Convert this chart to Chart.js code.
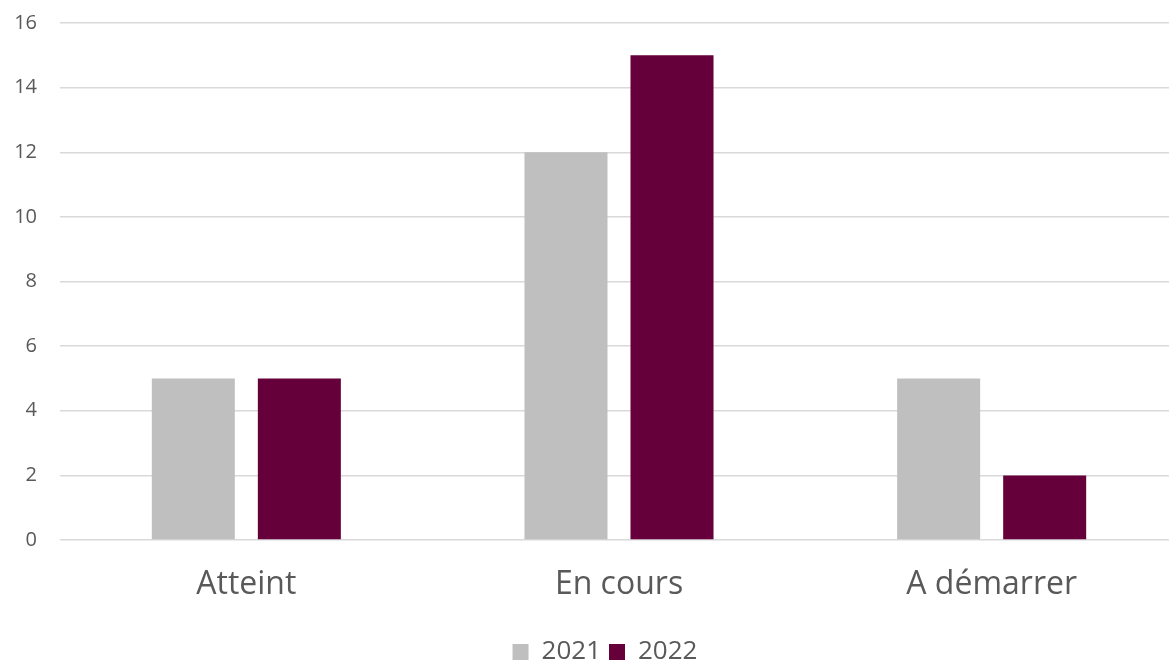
<!DOCTYPE html>
<html>
<head>
<meta charset="utf-8">
<script src="https://cdn.jsdelivr.net/npm/chart.js@4/dist/chart.umd.min.js"></script>
<style>
  html, body { margin: 0; padding: 0; background: #fff; overflow: hidden; }
  #wrap { width: 1178px; height: 676px; position: relative; top: -12px; }
</style>
</head>
<body>
<div id="wrap"><canvas id="graphique"></canvas></div>
<script>
// categories et valeurs
const categories = ['Atteint', 'En cours', 'A démarrer'];
const valeurs2021 = [5, 12, 5];
const valeurs2022 = [5, 15, 2];
const ticksY = [0, 2, 4, 6, 8, 10, 12, 14, 16];

const couleurTexte = '#595959';

// petit decalage de la legende vers la droite, comme dans l'original
const decalerLegende = {
  id: 'decalerLegende',
  afterLayout(chart) {
    if (chart.legend) {
      chart.legend.left += 16;
      chart.legend.right += 16;
    }
  }
};

var ctx = document.getElementById('graphique').getContext('2d');
var graphique = new Chart(ctx, {
  type: 'bar',
  data: {
    labels: categories,
    datasets: [
      {
        label: '2021',
        data: valeurs2021,
        backgroundColor: '#bfbfbf',
        categoryPercentage: 0.569,
        barPercentage: 0.783
      },
      {
        label: '2022',
        data: valeurs2022,
        backgroundColor: '#65003a',
        categoryPercentage: 0.569,
        barPercentage: 0.783
      }
    ]
  },
  plugins: [decalerLegende],
  options: {
    responsive: true,
    maintainAspectRatio: false,
    animation: false,
    layout: { padding: { top: 3, right: 0, bottom: -11, left: 0 } },
    plugins: {
      tooltip: { enabled: false },
      legend: {
        position: 'bottom',
        labels: {
          color: couleurTexte,
          font: { family: 'Open Sans', size: 26 },
          boxWidth: 16,
          boxHeight: 16,
          padding: 8
        }
      }
    },
    scales: {
      x: {
        grid: { display: false, drawTicks: false },
        border: { display: false },
        ticks: {
          color: couleurTexte,
          font: { family: 'Open Sans', size: 32 },
          padding: 26
        },
        afterFit: function (scale) { scale.height = 91; }
      },
      y: {
        min: 0,
        max: 16,
        afterBuildTicks: function (scale) {
          scale.ticks = ticksY.map(v => ({ value: v }));
        },
        grid: { color: '#d9d9d9', lineWidth: 1.5, drawTicks: false },
        border: { display: false },
        ticks: {
          color: couleurTexte,
          font: { family: 'Open Sans', size: 20 },
          padding: 23
        },
        afterFit: function (scale) { scale.width = 60; }
      }
    }
  }
});
</script>
</body>
</html>
